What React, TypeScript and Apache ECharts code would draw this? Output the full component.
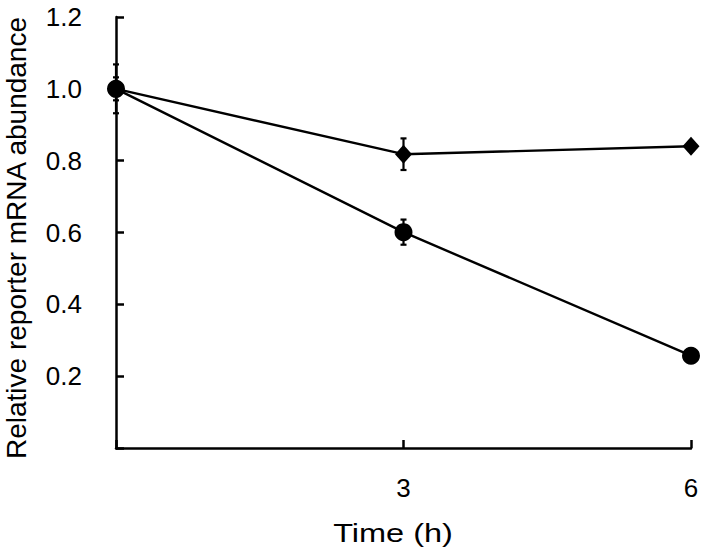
import React, { useEffect, useRef } from "react";
import * as echarts from "echarts";

const times = [0, 3, 6];
const diamondMean = [1.0, 0.818, 0.84];
const diamondErr = [0.068, 0.044, 0.01];
const circleMean = [1.0, 0.601, 0.257];
const circleErr = [0.032, 0.035, 0.008];
const yTickValues = [0.2, 0.4, 0.6, 0.8, 1.0, 1.2];
const xTickValues = [3, 6];
const xTitle = "Time (h)";
const yTitle = "Relative reporter mRNA abundance";

const FONT = "'Liberation Sans', Arial, Helvetica, sans-serif";

export default function App() {
  const ref = useRef<HTMLDivElement>(null);
  useEffect(() => {
    if (!ref.current) return;
    const chart = echarts.init(ref.current, null, { renderer: "svg" });
    const errData = (means: number[], errs: number[]) =>
      times.map((t, i) => [t, means[i] - errs[i], means[i] + errs[i]]);
    const renderErr = (params: any, api: any) => {
      const x = api.value(0);
      const p1 = api.coord([x, api.value(1)]);
      const p2 = api.coord([x, api.value(2)]);
      const w = 3;
      const st = { stroke: "#000", lineWidth: 2.2 };
      return {
        type: "group",
        children: [
          { type: "line", shape: { x1: p1[0], y1: p1[1], x2: p2[0], y2: p2[1] }, style: st },
          { type: "line", shape: { x1: p1[0] - w, y1: p1[1], x2: p1[0] + w, y2: p1[1] }, style: st },
          { type: "line", shape: { x1: p2[0] - w, y1: p2[1], x2: p2[0] + w, y2: p2[1] }, style: st },
        ],
      };
    };
    chart.setOption({
      animation: false,
      backgroundColor: "#fff",
      grid: { left: 116, right: 11, top: 17, bottom: 104, containLabel: false, outerBoundsMode: "none" },
      xAxis: {
        type: "value",
        min: 0,
        max: 6,
        interval: 3,
        splitLine: { show: false },
        axisLine: { show: true, onZero: false, lineStyle: { color: "#000", width: 2.5 } },
        axisTick: { show: true, inside: true, length: 8, lineStyle: { color: "#000", width: 2.5 } },
        axisLabel: {
          color: "#000",
          fontSize: 26,
          fontFamily: FONT,
          margin: 27,
          formatter: (v: number) => (xTickValues.includes(v) ? String(v) : ""),
        },
      },
      yAxis: {
        type: "value",
        min: 0,
        max: 1.2,
        interval: 0.2,
        splitLine: { show: false },
        axisLine: { show: true, lineStyle: { color: "#000", width: 2.5 } },
        axisTick: { show: true, inside: true, length: 8, lineStyle: { color: "#000", width: 2.5 } },
        axisLabel: {
          color: "#000",
          fontSize: 26,
          fontFamily: FONT,
          margin: 34,
          formatter: (v: number) => {
            const r = Math.round(v * 10) / 10;
            return yTickValues.some((t) => Math.abs(t - r) < 1e-6) ? r.toFixed(1) : "";
          },
        },
      },
      graphic: [
        {
          type: "text",
          x: 393,
          y: 533,
          scaleX: 1.25,
          style: {
            text: xTitle,
            fontSize: 26,
            fontFamily: FONT,
            fill: "#000",
            align: "center",
            verticalAlign: "middle",
          },
        },
        {
          type: "text",
          x: 16,
          y: 238,
          rotation: Math.PI / 2,
          style: {
            text: yTitle,
            fontSize: 28,
            fontFamily: FONT,
            fill: "#000",
            align: "center",
            verticalAlign: "middle",
          },
        },
      ],
      series: [
        {
          type: "custom",
          renderItem: renderErr,
          data: errData(diamondMean, diamondErr),
          clip: false,
          z: 1,
        },
        {
          type: "custom",
          renderItem: renderErr,
          data: errData(circleMean, circleErr),
          clip: false,
          z: 1,
        },
        {
          type: "line",
          data: times.map((t, i) => [t, diamondMean[i]]),
          symbol: "diamond",
          symbolSize: [17, 19],
          showAllSymbol: true,
          clip: false,
          lineStyle: { color: "#000", width: 2.4 },
          itemStyle: { color: "#000", borderWidth: 0 },
          z: 2,
        },
        {
          type: "line",
          data: times.map((t, i) => [t, circleMean[i]]),
          symbol: "circle",
          symbolSize: 18,
          showAllSymbol: true,
          clip: false,
          lineStyle: { color: "#000", width: 2.4 },
          itemStyle: { color: "#000", borderWidth: 0 },
          z: 2,
        },
      ],
    });
    return () => chart.dispose();
  }, []);
  return (
    <div
      ref={ref}
      style={{ position: "fixed", left: 0, top: 0, width: 702, height: 552 }}
    />
  );
}
